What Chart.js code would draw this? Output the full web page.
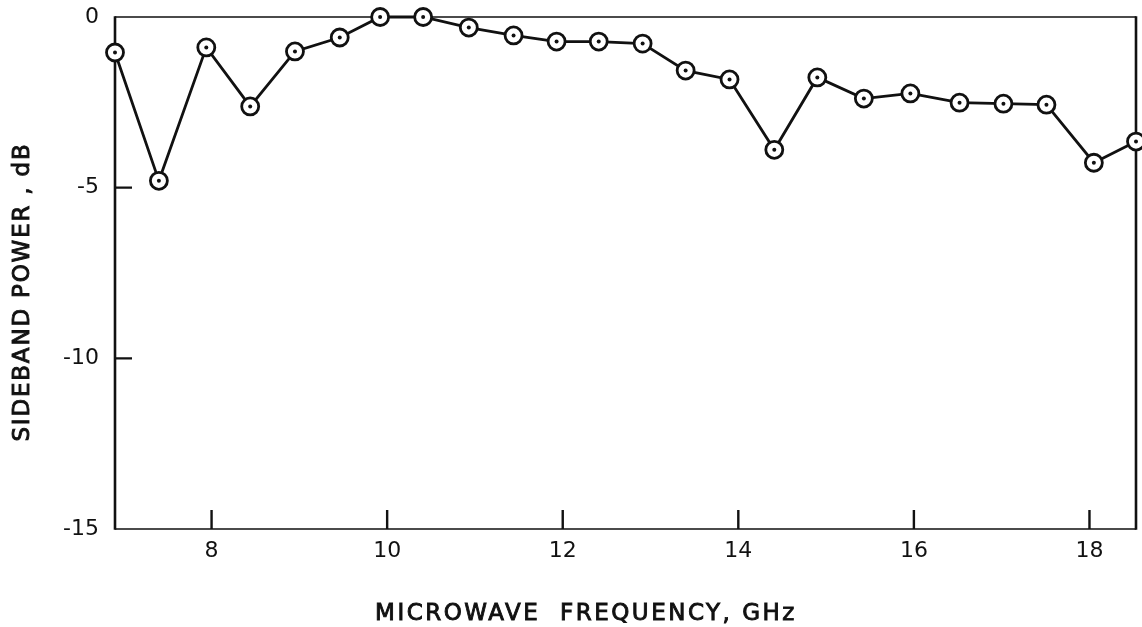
<!DOCTYPE html>
<html>
<head>
<meta charset="utf-8">
<script src="https://cdn.jsdelivr.net/npm/chart.js@4/dist/chart.umd.min.js"></script>
<style>
  html, body { margin: 0; padding: 0; background: #ffffff; }
  #wrap { width: 1142px; height: 627px; position: relative; }
</style>
</head>
<body>
<div id="wrap"><canvas id="c" width="1142" height="627"></canvas></div>
<script>
// Measured sideband power versus microwave frequency
const frequencyGHz = [6.9, 7.4, 7.94, 8.44, 8.95, 9.46, 9.92, 10.41, 10.93, 11.44, 11.93, 12.41,
                      12.91, 13.4, 13.9, 14.41, 14.9, 15.43, 15.96, 16.52, 17.02, 17.51, 18.05, 18.53];
const sidebandPowerDb = [-1.04, -4.8, -0.89, -2.62, -1.01, -0.6, 0.0, 0.0, -0.31, -0.54, -0.72, -0.72,
                         -0.78, -1.57, -1.83, -3.89, -1.77, -2.39, -2.24, -2.51, -2.54, -2.57, -4.27, -3.65];
const xTickValues = [8, 10, 12, 14, 16, 18];
const yTickValues = [0, -5, -10, -15];
const xRange = [6.9, 18.53];
const yRange = [-15, 0];
const xTitle = 'MICROWAVE  FREQUENCY, GHz';
const yTitle = 'SIDEBAND POWER , dB';

const points = frequencyGHz.map((f, i) => ({ x: f, y: sidebandPowerDb[i] }));
const INK = '#111111';
const FONT = '"DejaVu Sans", "Liberation Sans", Arial, sans-serif';

// Frame, inward tick marks and axis titles
const framePlugin = {
  id: 'frame',
  beforeDatasetsDraw(chart) {
    const { ctx, chartArea: a, scales } = chart;
    ctx.save();
    ctx.strokeStyle = INK;
    ctx.lineCap = 'butt';
    // top and bottom edges are lighter than the sides
    ctx.lineWidth = 1.6;
    ctx.beginPath();
    ctx.moveTo(a.left, a.top); ctx.lineTo(a.right, a.top);
    ctx.moveTo(a.left, a.bottom); ctx.lineTo(a.right, a.bottom);
    ctx.stroke();
    ctx.lineWidth = 2.6;
    ctx.beginPath();
    ctx.moveTo(a.left, a.top - 0.8); ctx.lineTo(a.left, a.bottom + 0.8);
    ctx.moveTo(a.right, a.top - 0.8); ctx.lineTo(a.right, a.bottom + 0.8);
    ctx.stroke();
    // inward ticks
    ctx.lineWidth = 2.4;
    ctx.beginPath();
    xTickValues.forEach(v => {
      const px = scales.x.getPixelForValue(v);
      ctx.moveTo(px, a.bottom); ctx.lineTo(px, a.bottom - 19);
    });
    yTickValues.forEach(v => {
      if (v === yRange[0] || v === yRange[1]) return;
      const py = scales.y.getPixelForValue(v);
      ctx.moveTo(a.left, py); ctx.lineTo(a.left + 17, py);
    });
    ctx.stroke();
    ctx.restore();
  },
  afterDraw(chart) {
    const { ctx } = chart;
    ctx.save();
    ctx.fillStyle = INK;
    ctx.strokeStyle = INK;
    ctx.lineWidth = 0.9;
    ctx.font = '23px ' + FONT;
    ctx.textAlign = 'center';
    ctx.textBaseline = 'middle';
    try { ctx.letterSpacing = '2.5px'; } catch (e) {}
    ctx.fillText(xTitle, 586, 614);
    ctx.strokeText(xTitle, 586, 614);
    try { ctx.letterSpacing = '1.8px'; } catch (e) {}
    ctx.translate(23, 292);
    ctx.rotate(-Math.PI / 2);
    ctx.fillText(yTitle, 0, 0);
    ctx.strokeText(yTitle, 0, 0);
    ctx.restore();
  }
};

new Chart(document.getElementById('c'), {
  type: 'scatter',
  data: {
    datasets: [
      {
        data: points,
        order: 2,
        showLine: true,
        borderColor: INK,
        borderWidth: 2.8,
        pointRadius: 8.5,
        pointBorderWidth: 2.8,
        pointBackgroundColor: '#ffffff',
        pointBorderColor: INK,
        clip: false
      },
      {
        data: points,
        order: 1,
        showLine: false,
        pointRadius: 2,
        pointBorderWidth: 0,
        pointBackgroundColor: INK,
        pointBorderColor: INK,
        clip: false
      }
    ]
  },
  options: {
    responsive: false,
    animation: false,
    events: [],
    layout: { autoPadding: false, padding: { top: 17, right: 6, left: 0, bottom: 0 } },
    plugins: { legend: { display: false }, tooltip: { enabled: false } },
    scales: {
      x: {
        type: 'linear',
        min: xRange[0],
        max: xRange[1],
        afterBuildTicks(scale) { scale.ticks = xTickValues.map(v => ({ value: v })); },
        afterFit(scale) {
          scale.height = 98;
          scale.paddingLeft = 0; scale.paddingRight = 0;
          scale.paddingTop = 0; scale.paddingBottom = 0;
        },
        grid: { display: false, drawTicks: false },
        border: { display: false },
        ticks: {
          padding: 9,
          color: INK,
          font: { family: FONT, size: 22 },
          maxRotation: 0,
          callback: v => String(v)
        }
      },
      y: {
        type: 'linear',
        min: yRange[0],
        max: yRange[1],
        afterBuildTicks(scale) { scale.ticks = yTickValues.map(v => ({ value: v })); },
        afterFit(scale) {
          scale.width = 115;
          scale.paddingLeft = 0; scale.paddingRight = 0;
          scale.paddingTop = 0; scale.paddingBottom = 0;
        },
        grid: { display: false, drawTicks: false },
        border: { display: false },
        ticks: {
          padding: 16,
          color: INK,
          font: { family: FONT, size: 22 },
          callback: v => String(v)
        }
      }
    }
  },
  plugins: [framePlugin]
});
</script>
</body>
</html>
